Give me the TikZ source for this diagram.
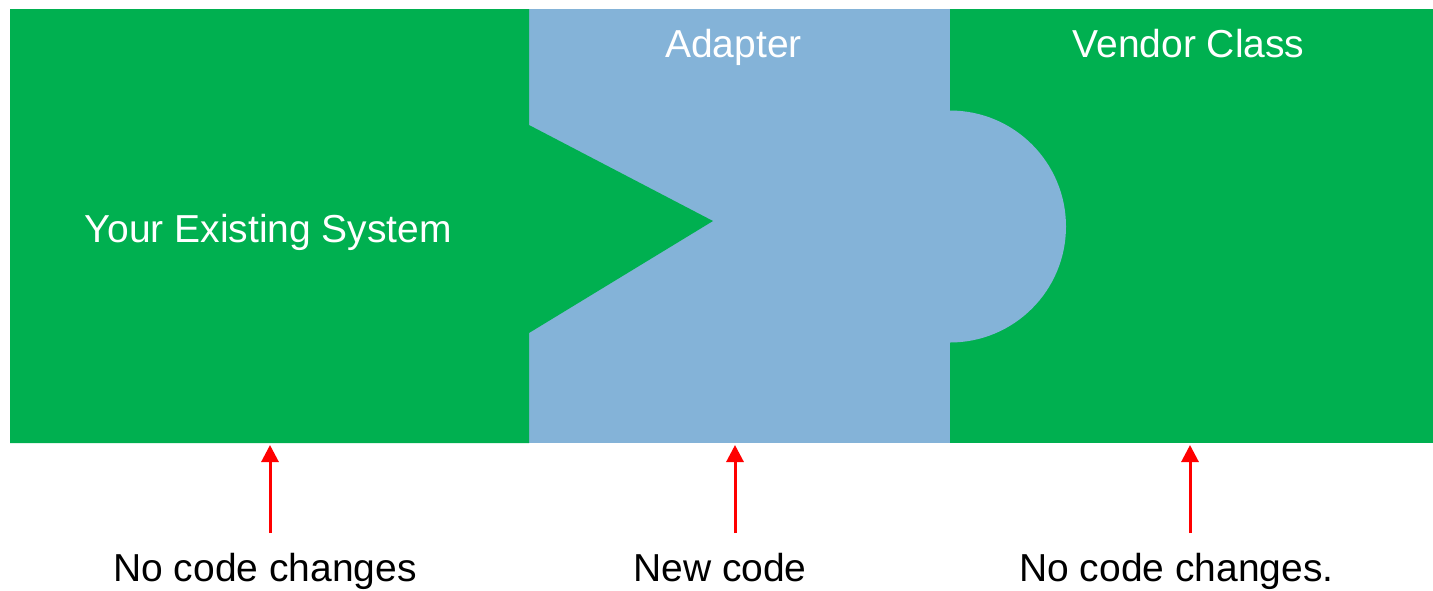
\documentclass[tikz,border=0pt]{standalone}
\usepackage{fontspec}
\setmainfont{Liberation Sans}
\usetikzlibrary{arrows.meta}
\definecolor{pgreen}{HTML}{00B050}
\definecolor{pblue}{HTML}{84B3D8}
\definecolor{pred}{HTML}{FF0000}
\tikzset{
  boxtext/.style={text=white, anchor=base, inner sep=0pt, font=\fontsize{39}{47}\selectfont},
  labeltext/.style={text=black, anchor=base, inner sep=0pt, font=\fontsize{39}{47}\selectfont},
  redarrow/.style={draw=pred, line width=3pt, -{Triangle[width=17pt,length=17pt]}}
}
\begin{document}
\begin{tikzpicture}[x=1pt,y=-1pt]
\useasboundingbox (0,0) rectangle (1433,590);
\fill[white] (0,0) rectangle (1433,590);
% vendor class block
\fill[pgreen] (950,9) rectangle (1433,443);
% adapter block
\fill[pblue] (529,9) rectangle (950,443);
\fill[pblue] (950,226.5) circle[radius=116];
% existing system block with point
\fill[pgreen] (10,9) -- (529,9) -- (529,125) -- (713,221) -- (529,333) -- (529,443) -- (10,443) -- cycle;
% texts
\node[boxtext] (sys) at (268.5,242) {Your Existing System};
\node[boxtext] (adapter) at (733.5,57) {Adapter};
\node[boxtext] (vendor) at (1188.5,57) {Vendor Class};
\node[labeltext] (l1) at (265,581) {No code changes};
\node[labeltext] (l2) at (720,581) {New code};
\node[labeltext] (l3) at (1176.5,581) {No code changes.};
% arrows
\coordinate (t1) at (270,533);
\coordinate (h1) at (270,445);
\coordinate (t2) at (735,533);
\coordinate (h2) at (735,445);
\coordinate (t3) at (1190,533);
\coordinate (h3) at (1190,445);
\draw[redarrow] (t1) -- (h1);
\draw[redarrow] (t2) -- (h2);
\draw[redarrow] (t3) -- (h3);
\end{tikzpicture}
\end{document}
